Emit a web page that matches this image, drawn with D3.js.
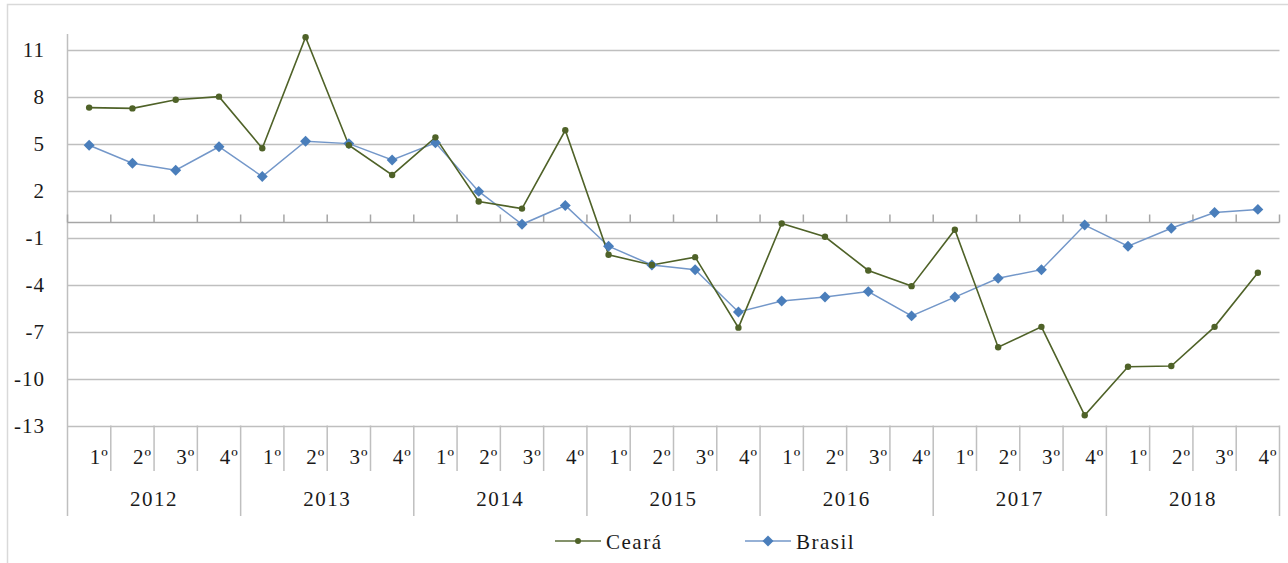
<!DOCTYPE html>
<html lang="pt">
<head>
    <meta charset="UTF-8">
    <title></title>
    <script src="https://d3js.org/d3.v7.min.js"></script>
    <style>
    body { margin: 0; background: #fff; }
    text { font-family: "Liberation Serif", "Times New Roman", serif; fill: #1a1a1a; }
    </style>
</head>
<body>
    <div id="container1"></div>
    <script>
    // dados trimestrais
    var anos = ["2012", "2013", "2014", "2015", "2016", "2017", "2018"];
    var trimestres = ["1º", "2º", "3º", "4º"];
    var ceara = [7.3, 7.25, 7.8, 8.0, 4.7, 11.8, 4.9, 3.0, 5.4, 1.3, 0.85, 5.85,
        -2.1, -2.75, -2.25, -6.75, -0.1, -0.95, -3.1, -4.1, -0.5, -8.0, -6.7, -12.35,
        -9.25, -9.2, -6.7, -3.25];
    var brasil = [4.9, 3.75, 3.3, 4.8, 2.9, 5.15, 5.0, 3.95, 5.05, 1.95, -0.15, 1.05,
        -1.55, -2.75, -3.05, -5.75, -5.05, -4.8, -4.45, -6.0, -4.8, -3.6, -3.05, -0.2,
        -1.55, -0.4, 0.6, 0.8];
    var ticksY = [11, 8, 5, 2, -1, -4, -7, -10, -13];

    var W = 1288, H = 563;
    var margemEsq = 67.5, margemDir = 1279.5, margemSup = 34, margemInf = 425.5;

    var categorias = [];
    anos.forEach(a => trimestres.forEach(t => categorias.push(a + "-" + t)));

    var x = d3.scaleBand().domain(categorias).range([margemEsq, margemDir]);
    var y = d3.scaleLinear().domain([-13, 12]).range([margemInf, margemSup]);

    var svg = d3.select("div#container1")
        .append("svg")
        .attr("width", W)
        .attr("height", H);

    // moldura
    svg.append("path")
        .attr("d", "M7.5," + H + "V4.5H" + W)
        .attr("fill", "none")
        .style("stroke", "#d9d9d9")
        .attr("stroke-width", 1.5);

    var cinza = "#bfbfbf";

    // grade
    svg.append("g")
        .selectAll("line")
        .data(ticksY)
        .enter()
        .append("line")
        .attr("x1", margemEsq).attr("x2", margemDir)
        .attr("y1", d => Math.round(y(d)) + 0.5)
        .attr("y2", d => Math.round(y(d)) + 0.5)
        .style("stroke", cinza)
        .attr("stroke-width", 1.5);

    svg.append("g")
        .selectAll("text")
        .data(ticksY)
        .enter()
        .append("text")
        .attr("x", 45)
        .attr("y", d => y(d) + 7)
        .attr("text-anchor", "end")
        .style("font-size", "21px")
        .style("letter-spacing", "1px")
        .text(d => d);

    // eixo vertical
    svg.append("line")
        .attr("x1", margemEsq).attr("x2", margemEsq)
        .attr("y1", margemSup).attr("y2", 516)
        .style("stroke", cinza).attr("stroke-width", 1.5);

    // eixo zero com marcas
    var y0 = Math.round(y(0)) + 0.5;
    svg.append("line")
        .attr("x1", margemEsq).attr("x2", margemDir)
        .attr("y1", y0).attr("y2", y0)
        .style("stroke", "#a6a6a6").attr("stroke-width", 1.5);

    var limites = categorias.map(c => x(c) + x.bandwidth()).concat([margemEsq]);
    svg.append("g")
        .selectAll("line")
        .data(limites)
        .enter()
        .append("line")
        .attr("x1", d => d).attr("x2", d => d)
        .attr("y1", y0 - 8).attr("y2", y0)
        .style("stroke", "#a6a6a6").attr("stroke-width", 1.5);

    // rótulos das categorias
    svg.append("g")
        .selectAll("line")
        .data(categorias)
        .enter()
        .append("line")
        .attr("x1", d => x(d) + x.bandwidth())
        .attr("x2", d => x(d) + x.bandwidth())
        .attr("y1", margemInf)
        .attr("y2", (d, i) => i % 4 == 3 ? 516 : 471)
        .style("stroke", cinza).attr("stroke-width", 1.5);

    svg.append("g")
        .selectAll("text")
        .data(categorias)
        .enter()
        .append("text")
        .attr("x", d => x(d) + x.bandwidth() - 2)
        .attr("y", 464)
        .attr("text-anchor", "end")
        .style("font-size", "21px")
        .style("letter-spacing", "1px")
        .text(d => d.split("-")[1]);

    svg.append("g")
        .selectAll("text")
        .data(anos)
        .enter()
        .append("text")
        .attr("x", d => (x(d + "-1º") + x(d + "-4º") + x.bandwidth()) / 2)
        .attr("y", 506)
        .attr("text-anchor", "middle")
        .style("font-size", "21px")
        .style("letter-spacing", "1.5px")
        .text(d => d);

    // séries
    var linha = d3.line()
        .x((d, i) => x(categorias[i]) + x.bandwidth() / 2)
        .y(d => y(d));

    var corCeara = "#4f6228", corBrasil = "#4a7ebb";

    svg.append("path")
        .datum(brasil)
        .attr("d", linha)
        .attr("fill", "none")
        .style("stroke", "#7397c9")
        .attr("stroke-width", 1.5);

    svg.append("path")
        .datum(ceara)
        .attr("d", linha)
        .attr("fill", "none")
        .style("stroke", corCeara)
        .attr("stroke-width", 1.6);

    var losango = d3.symbol().type(d3.symbolSquare).size(60);

    svg.append("g")
        .selectAll("path")
        .data(brasil)
        .enter()
        .append("path")
        .attr("d", losango)
        .attr("transform", (d, i) => "translate(" + (x(categorias[i]) + x.bandwidth() / 2) + "," + y(d) + ") rotate(45)")
        .attr("fill", corBrasil);

    svg.append("g")
        .selectAll("circle")
        .data(ceara)
        .enter()
        .append("circle")
        .attr("cx", (d, i) => x(categorias[i]) + x.bandwidth() / 2)
        .attr("cy", d => y(d))
        .attr("r", 3.2)
        .attr("fill", corCeara);

    // legenda
    var legenda = [
        { nome: "Ceará", cor: corCeara, linha: "#5b6e3a", x: 555 },
        { nome: "Brasil", cor: corBrasil, linha: "#7397c9", x: 745 }
    ];
    var lg = svg.append("g")
        .selectAll("g")
        .data(legenda)
        .enter()
        .append("g")
        .attr("transform", d => "translate(" + d.x + ",541)");
    lg.append("line")
        .attr("x1", 0).attr("x2", 46)
        .style("stroke", d => d.linha)
        .attr("stroke-width", 1.6);
    lg.filter(d => d.nome == "Ceará")
        .append("circle")
        .attr("cx", 23).attr("r", 3)
        .attr("fill", d => d.cor);
    lg.filter(d => d.nome == "Brasil")
        .append("path")
        .attr("d", losango)
        .attr("transform", "translate(23,0) rotate(45)")
        .attr("fill", d => d.cor);
    lg.append("text")
        .attr("x", 51)
        .attr("y", 8)
        .style("font-size", "21px")
        .style("letter-spacing", "1.5px")
        .text(d => d.nome);
    </script>
</body>
</html>
